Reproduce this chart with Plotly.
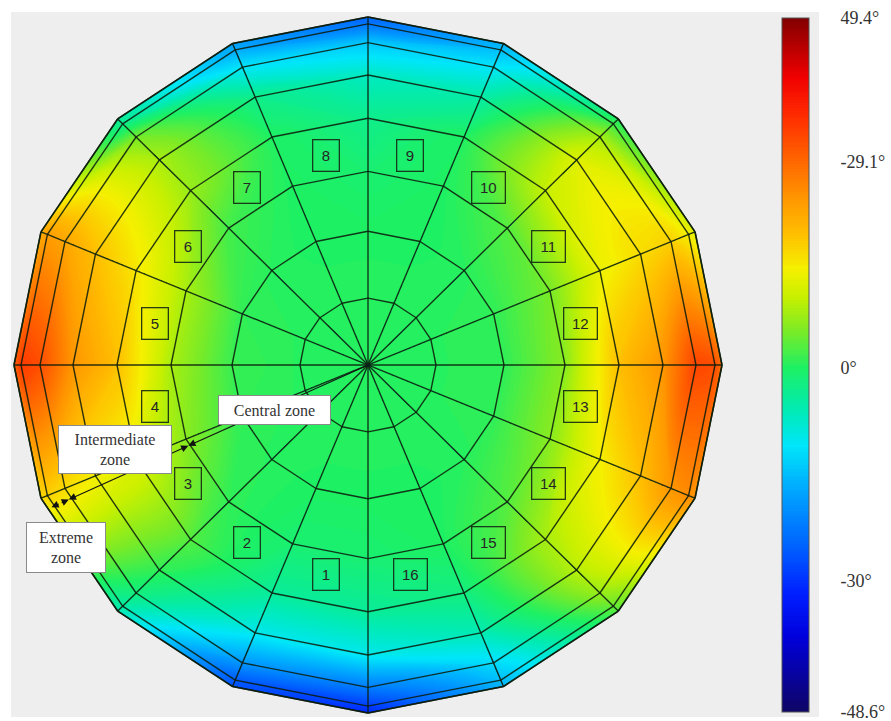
import numpy as np
import plotly.graph_objects as go

# ---- mesh geometry -------------------------------------------------------
# ring radii (px from the centre) and spoke angles (deg, counter-clockwise from +x);
# the innermost ring is a 1 px hub so that no carpet cell collapses to a point
ring_radius = [1, 68, 136, 197, 251, 295, 328, 347, 354]
spoke_angle = [0, 22.5, 45, 67.5, 90, 112.5, 135, 157.5, 180,
               202.5, 225, 247.5, 270, 292.5, 315, 337.5, 360]
Y_SCALE = 0.983

# ---- nodal angle values (deg) ---------------------------------------------
# one list per ring, spokes in the order of spoke_angle (0 ... 337.5)
centre_value = 0.5
ring_68 = [0.5, 0.5, 0.5, 0.5, 0.5, 0.5, 0.5, 0.5, 0.5, 0.5, 0.5, 0.5, 0.5, 0.5, 0.5, 0.5]
ring_136 = [1, 1, 0.5, 0, 0, 0, 0.5, 1, 1.5, 1, 0.5, 0, 0, 0, 0.5, 1]
ring_197 = [6, 5, 3, 0, -1, 0, 2, 8, 8, 6, 1, -1, -1, 0, 3, 6]
ring_251 = [19, 13, 10, 0, -3, 0, 7, 15, 19, 12, 3, -4, -4, -2, 8, 14]
ring_295 = [24, 16, 12, -5, -7, -3, 8, 19, 24, 14, 1, -10, -10, -6, 9, 19]
ring_328 = [33, 17, 8, -11, -14, -11, 5, 22, 32, 16, -2, -19, -22, -12, 7, 24]
ring_347 = [32, 14, 2, -15, -23, -17, -3, 23, 34, 17, -5, -26, -29, -15, 4, 25]
ring_354 = [28, 12, 0, -16, -25, -18, -4, 21, 30, 16, -6, -27, -31, -16, 3, 24]

ring_values = [[centre_value] * 16, ring_68, ring_136, ring_197, ring_251,
               ring_295, ring_328, ring_347, ring_354]

# colour bar
cbar_min, cbar_max = -48.6, 49.4
cbar_tickvals = [49.4, 29.1, 0, -30, -48.6]
cbar_ticktext = ["49.4°", "-29.1°", "0°", "-30°", "-48.6°"]

# zone boundaries along the dimension line
zone_limits = [0, 197, 328, 347]
zone_names = ["Central zone", "Intermediate<br>zone", "Extreme<br>zone"]

sector_labels = [str(k) for k in range(1, 17)]

# ---- colour scale ----------------------------------------------------------
stops = [(-48.6, (15, 5, 100)), (-38, (0, 0, 220)), (-32, (0, 30, 255)),
         (-25, (0, 100, 255)), (-18, (0, 160, 255)), (-11, (0, 230, 250)),
         (-6, (0, 235, 180)), (0, (30, 240, 100)), (5, (120, 235, 40)),
         (10, (200, 240, 0)), (14, (245, 240, 0)), (19, (255, 190, 0)),
         (24, (255, 150, 0)), (30, (255, 95, 0)), (36, (255, 40, 0)),
         (41, (240, 0, 0)), (49.4, (130, 0, 0))]
colorscale = [[(v - cbar_min) / (cbar_max - cbar_min), "rgb(%d,%d,%d)" % c]
              for v, c in stops]
colorscale[-1][0] = 1.0

# 250 filled bands; the colour bar spans start - size/2 ... end + size/2
LEVEL = (cbar_max - cbar_min) / 250
contours = dict(start=cbar_min + LEVEL / 2, end=cbar_max - LEVEL / 2, size=LEVEL,
                coloring="fill", showlines=False)

LINE = "rgba(12,30,12,0.88)"

colorbar = dict(
    x=782 / 891, xanchor="left", xpad=0,
    y=1 - 365 / 721, yanchor="middle", ypad=0,
    thickness=27, thicknessmode="pixels",
    len=694, lenmode="pixels",
    outlinecolor="#555", outlinewidth=1,
    tickmode="array", tickvals=cbar_tickvals, ticktext=cbar_ticktext,
    ticks="outside", ticklen=28, tickcolor="rgba(0,0,0,0)",
    ticklabeloverflow="allow",
    tickfont=dict(family="Liberation Serif", size=18, color="#333"),
)

fig = go.Figure()

# one carpet per sector (two neighbouring spokes, all rings);
# each sector draws only its leading spoke so spokes are not doubled
rr = np.array(ring_radius, dtype=float)
for j in range(16):
    b_pair = [spoke_angle[j], spoke_angle[j + 1]]
    th = np.radians(b_pair)
    X = np.outer(np.cos(th), rr)
    Y = np.outer(np.sin(th), rr) * Y_SCALE
    Z = [[ring_values[i][j] for i in range(len(ring_radius))],
         [ring_values[i][(j + 1) % 16] for i in range(len(ring_radius))]]
    cid = "sector%d" % j
    fig.add_trace(go.Contourcarpet(
        a=ring_radius, b=b_pair, z=Z, carpet=cid,
        autocontour=False, contours=contours, line=dict(width=0),
        colorscale=colorscale, showscale=(j == 0), colorbar=colorbar,
    ))
    fig.add_trace(go.Carpet(
        a=ring_radius, b=b_pair, x=X, y=Y, carpet=cid,
        aaxis=dict(tickmode="array", tickvals=ring_radius[1:],
                   showticklabels="none", showgrid=True, gridcolor=LINE,
                   gridwidth=1.4, minorgridcount=0, smoothing=0,
                   startline=False, endline=True, endlinecolor=LINE,
                   endlinewidth=1.6),
        baxis=dict(tickmode="array", tickvals=b_pair,
                   showticklabels="none", showgrid=False, minorgridcount=0,
                   smoothing=0, startline=True, endline=False,
                   startlinecolor=LINE, startlinewidth=1.4),
    ))

annotations = []

# sector number boxes
for k, lab in enumerate(sector_labels):
    ang = np.radians(258.75 - k * 22.5)
    annotations.append(dict(
        x=217 * np.cos(ang), y=217 * np.sin(ang) * Y_SCALE,
        xref="x", yref="y", text=lab, showarrow=False,
        font=dict(family="Liberation Sans", size=15, color="#262626"),
        bordercolor="rgba(20,40,20,0.9)", borderwidth=1.3, borderpad=1,
        width=23 if len(lab) == 1 else 30, height=28,
    ))

# dimension line with arrowheads at the zone boundaries
dim_ang = np.radians(204.2)
def on_dim(rad):
    return rad * np.cos(dim_ang), rad * np.sin(dim_ang)

segments = [(0, zone_limits[1])]
for lo, hi in zip(zone_limits[1:-1], zone_limits[2:]):
    mid = 0.5 * (lo + hi)
    segments += [(mid, lo), (mid, hi)]
for tail, tip in segments:
    tx, ty = on_dim(tip)
    sx, sy = on_dim(tail)
    annotations.append(dict(
        x=tx, y=ty, ax=sx, ay=sy, xref="x", yref="y", axref="x", ayref="y",
        text="", showarrow=True, arrowhead=2, arrowsize=1.3,
        arrowwidth=1.1, arrowcolor="#111", standoff=0, startstandoff=0,
    ))

# zone labels
zone_boxes = [(-93.5, -45, 109, 26), (-253, -84.5, 110, 45), (-302, -182.5, 76, 47)]
for name, (bx, by, bw, bh) in zip(zone_names, zone_boxes):
    annotations.append(dict(
        x=bx, y=by, xref="x", yref="y", text=name, showarrow=False,
        font=dict(family="Liberation Serif", size=16, color="#333"),
        bgcolor="white", bordercolor="#8a8a8a", borderwidth=1, borderpad=1,
        width=bw, height=bh, align="center",
    ))

fig.update_layout(
    width=891, height=721,
    margin=dict(l=0, r=0, t=0, b=0),
    paper_bgcolor="white", plot_bgcolor="white",
    xaxis=dict(range=[-368, 523], visible=False),
    yaxis=dict(range=[-356, 365], visible=False),
    showlegend=False,
    annotations=annotations,
    shapes=[dict(type="rect", xref="paper", yref="paper",
                 x0=11 / 891, x1=819 / 891, y0=1 - 717 / 721, y1=1 - 12 / 721,
                 fillcolor="#eeeeee", line=dict(width=0), layer="below")],
)

fig.write_html("out.html")
